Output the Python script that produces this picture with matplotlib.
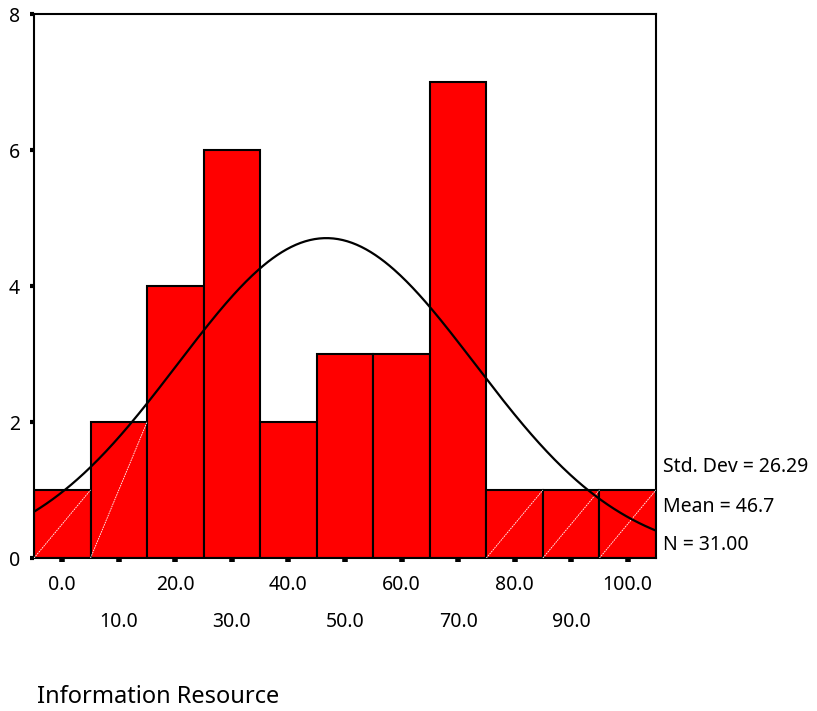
import numpy as np
import matplotlib
matplotlib.use("Agg")
import matplotlib.pyplot as plt

plt.rcParams['font.family'] = ['Noto Sans', 'DejaVu Sans']

# Data
bin_centers = [0, 10, 20, 30, 40, 50, 60, 70, 80, 90, 100]
counts = [1, 2, 4, 6, 2, 3, 3, 7, 1, 1, 1]
bin_width = 10
std_dev = 26.29
mean = 46.7
n_obs = 31
hatched_bins = [0, 10, 80, 90, 100]  # bars showing a thin white diagonal
major_labels = [0, 20, 40, 60, 80, 100]
minor_labels = [10, 30, 50, 70, 90]
y_ticks = [0, 2, 4, 6, 8]
title = "Information Resource"

fig = plt.figure(figsize=(8.17, 7.11), dpi=100)
ax = fig.add_axes([34/817, 1-558/711, (656-34)/817, (558-14)/711])

ax.bar(bin_centers, counts, width=bin_width, color='#ff0000',
       edgecolor='black', linewidth=1.5, zorder=2)

for c, h in zip(bin_centers, counts):
    if c in hatched_bins:
        ax.plot([c - bin_width/2, c + bin_width/2], [0, h], color='white',
                lw=0.6, ls=(0, (2, 1)), zorder=3)

xs = np.linspace(-5, 105, 400)
ys = n_obs * bin_width / (std_dev * np.sqrt(2*np.pi)) * np.exp(-0.5*((xs-mean)/std_dev)**2)
ax.plot(xs, ys, color='black', lw=1.6, zorder=4)

ax.set_xlim(-5, 105)
ax.set_ylim(0, 8)
for s in ax.spines.values():
    s.set_linewidth(1.5)

fs = 14
ax.set_yticks(y_ticks)
ax.set_yticklabels([str(v) for v in y_ticks])
ax.tick_params(axis='y', direction='out', length=3, width=3, pad=7, labelsize=fs)

ax.set_xticks(major_labels)
ax.set_xticklabels([f"{v:.1f}" for v in major_labels])
ax.set_xticks(minor_labels, minor=True)
ax.set_xticklabels([f"{v:.1f}" for v in minor_labels], minor=True)
ax.tick_params(axis='x', which='major', direction='out', length=3, width=4, pad=9, labelsize=fs)
ax.tick_params(axis='x', which='minor', direction='out', length=3, width=4, pad=36, labelsize=fs)

fig.text(663/817, 1-467/711, f"Std. Dev = {std_dev:.2f}", fontsize=fs, va='center', ha='left')
fig.text(663/817, 1-507/711, f"Mean = {mean:.1f}", fontsize=fs, va='center', ha='left')
fig.text(663/817, 1-545/711, f"N = {n_obs:.2f}", fontsize=fs, va='center', ha='left')

fig.text(37/817, 1-697/711, title, fontsize=17, va='center', ha='left')

fig.savefig("out.png", dpi=100)
